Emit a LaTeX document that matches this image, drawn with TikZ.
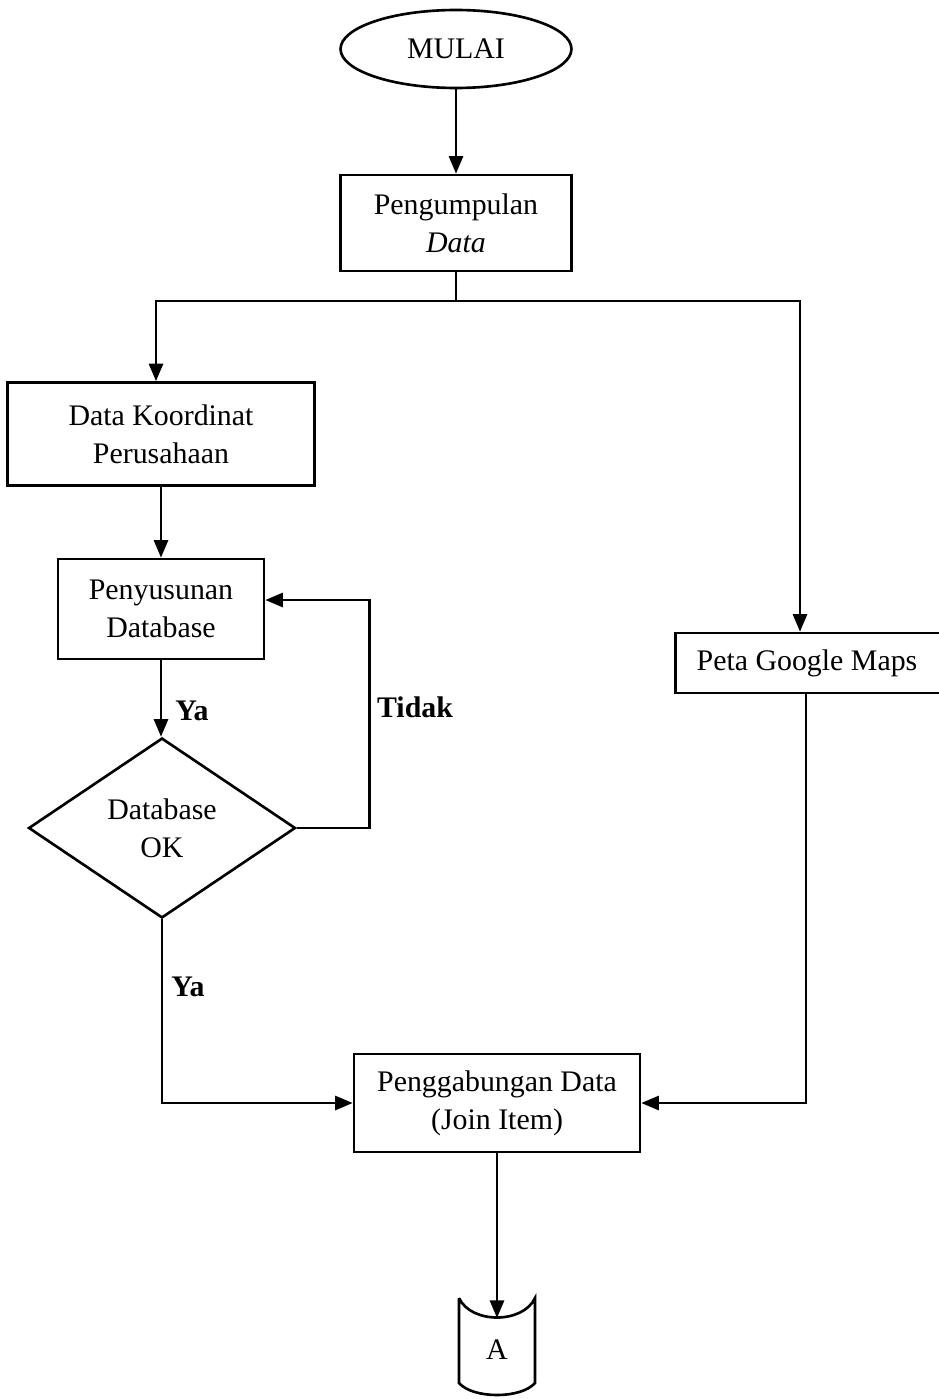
\documentclass[tikz,border=0pt]{standalone}
\usepackage{fontspec}
\setmainfont{Liberation Serif}
\usetikzlibrary{positioning,shapes.geometric,arrows.meta}

\begin{document}
\begin{tikzpicture}[x=0.02cm,y=-0.02cm,
    every node/.style={font=\fontsize{17}{21.6}\selectfont},
    proses/.style={draw,line width=1.5pt,align=center,inner sep=0pt},
    garis/.style={line width=1.5pt},
    arr/.style={garis,-{Triangle[width=8pt,length=10pt]}},
    ket/.style={font=\fontsize{17}{20}\selectfont\bfseries}]
    \useasboundingbox (0,0) rectangle (938,1399);
    % simbol-simbol
    \node[proses,ellipse,minimum width=4.62cm,minimum height=1.56cm] (mulai) at (456,49) {MULAI};
    \node[proses,minimum width=4.62cm,minimum height=1.92cm] (kumpul) at (456,223) {Pengumpulan\\\textit{Data}};
    \node[proses,minimum width=6.14cm,minimum height=2.06cm] (koord) at (161,434) {Data Koordinat\\Perusahaan};
    \node[proses,minimum width=4.12cm,minimum height=2.0cm] (susun) at (161,609) {Penyusunan\\Database};
    \node[proses,diamond,minimum width=5.34cm,minimum height=3.6cm] (dbok) at (162,828) {Database\\OK};
    \node[proses,minimum width=5.38cm,minimum height=1.2cm] (peta) at (810,663) {\hspace*{-0.12cm}Peta Google Maps};
    \node[proses,minimum width=5.72cm,minimum height=1.96cm] (gabung) at (497,1103) {Penggabungan Data\\(Join Item)};
    \coordinate (atasA) at (497,1318);
    \draw[garis] (459,1298) -- (459,1383) .. controls (473,1399) and (521,1399) .. (535,1383)
        -- (535,1298) .. controls (523,1324) and (471,1324) .. (459,1298);
    \node (hurufA) at (497,1350) {A};
    % alur
    \coordinate (cabang) at (456,301);
    \draw[arr] (mulai) -- (kumpul);
    \draw[garis] (kumpul.south) -- (cabang);
    \draw[arr] (cabang) -| ([xshift=-0.1cm]koord.north);
    \draw[arr] (cabang) -| ([xshift=-0.2cm]peta.north);
    \draw[arr] (koord) -- (susun);
    \draw[arr] (susun.south) -- (susun.south |- dbok.north);
    \node[ket] (ya1) at (192,711) {Ya};
    \draw[arr] (dbok.east) -- ++(1.46cm,0) |- ([yshift=0.18cm]susun.east);
    \node[ket] (tidak) at (415,707) {Tidak};
    \draw[arr] (dbok.south) |- (gabung.west);
    \node[ket] (ya2) at (188,987) {Ya};
    \draw[arr] ([xshift=-0.08cm]peta.south) |- (gabung.east);
    \draw[arr] (gabung) -- (atasA);
\end{tikzpicture}
\end{document}
